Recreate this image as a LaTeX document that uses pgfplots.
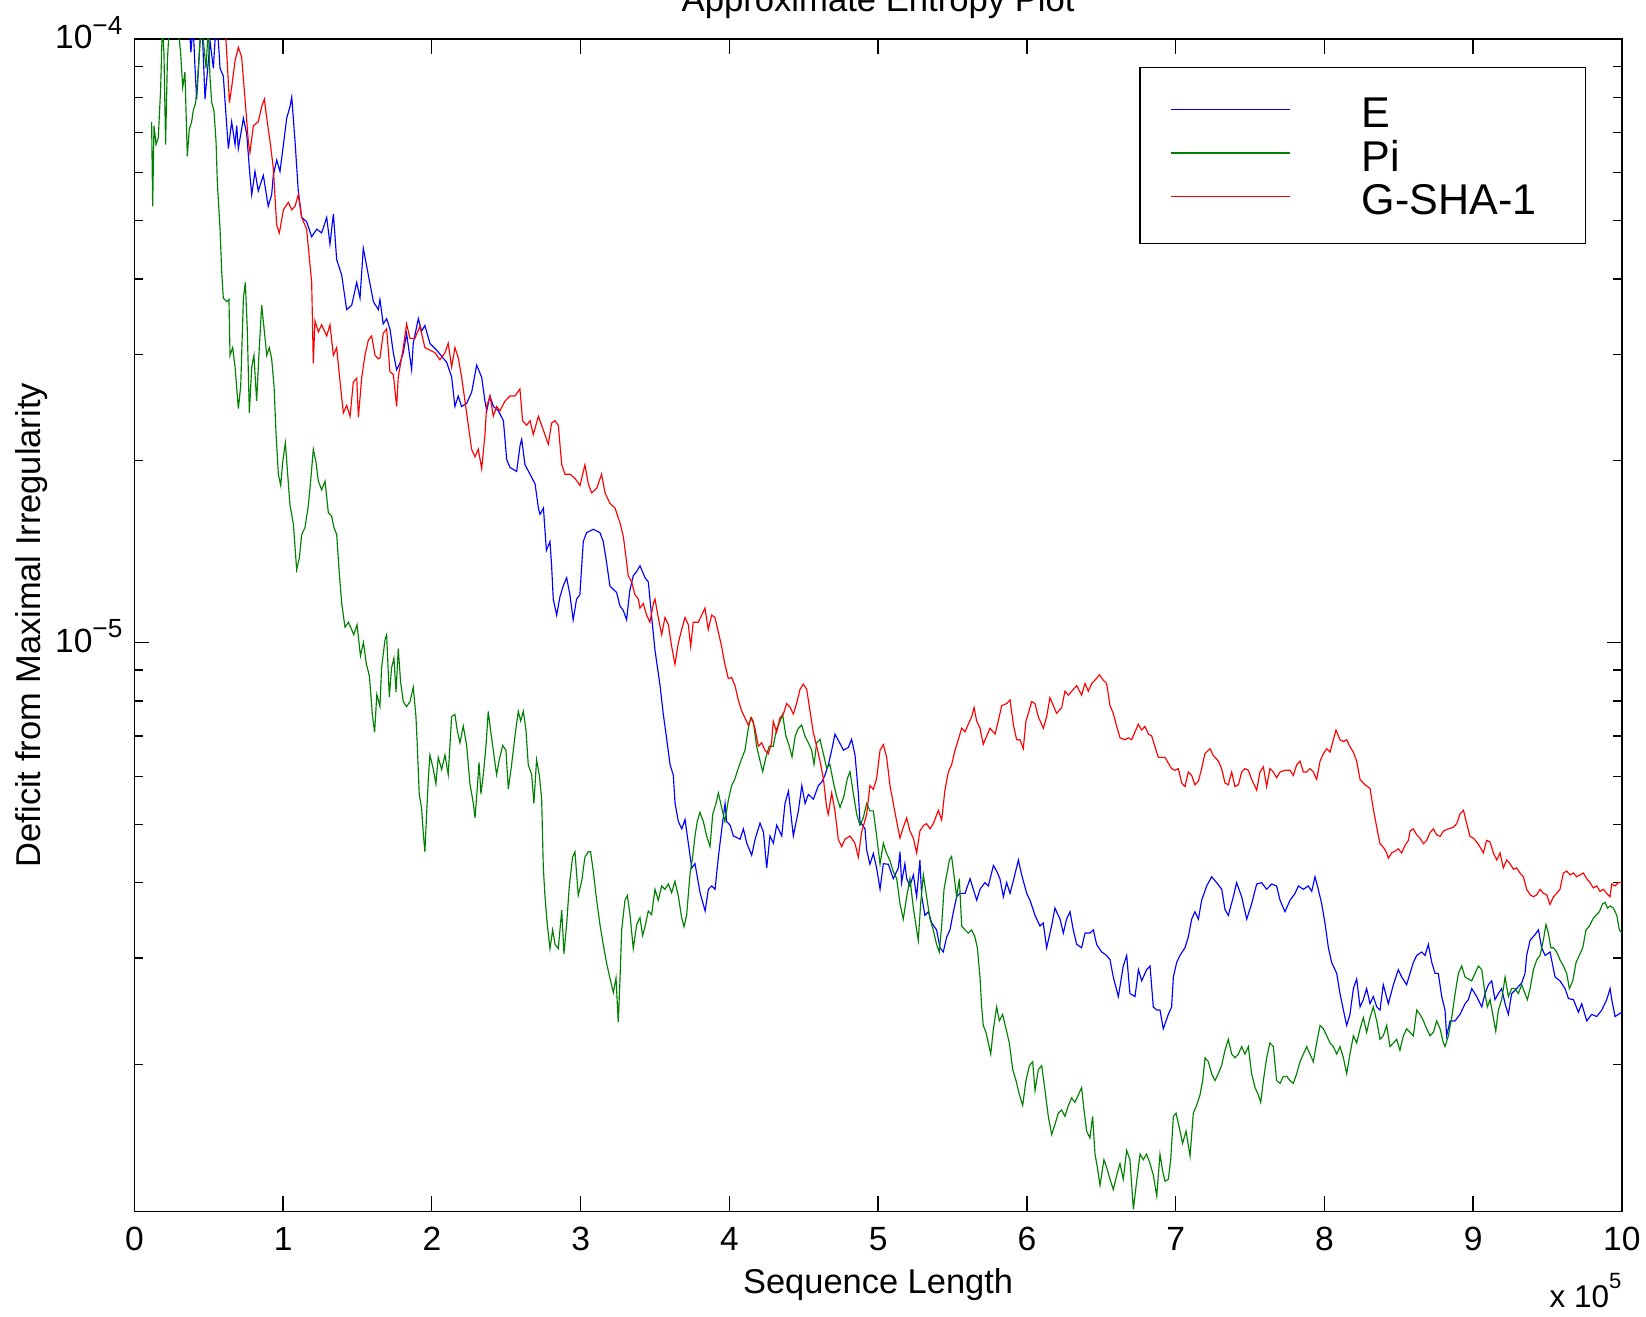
\documentclass[border=0pt]{standalone}
\usepackage{fontspec}
\setmainfont{Liberation Sans}
\usepackage{pgfplots}
\pgfplotsset{compat=1.18}
\definecolor{mblue}{rgb}{0,0,1}
\definecolor{mgreen}{rgb}{0,0.5,0}
\definecolor{mred}{rgb}{1,0,0}
\newcommand{\ylab}[1]{10\raisebox{7pt}{\fontsize{12.5}{12.5}\selectfont −#1}}
\begin{document}
\begin{tikzpicture}
\begin{axis}[
  scale only axis, width=708.5pt, height=558.5pt,
  xmin=0, xmax=10, ymode=log, ymin=1.141e-6, ymax=1e-4,
  xtick={0,1,2,3,4,5,6,7,8,9,10}, xticklabels={0,1,2,3,4,5,6,7,8,9,10},
  ytick={1e-5,1e-4}, yticklabels={\ylab{5},\ylab{4}},
  minor ytick={2e-6,3e-6,4e-6,5e-6,6e-6,7e-6,8e-6,9e-6,2e-5,3e-5,4e-5,5e-5,6e-5,7e-5,8e-5,9e-5},
  tick align=inside, major tick length=7.2pt, minor tick length=4.3pt,
  every tick/.style={black, line width=0.6pt},
  axis line style={black, line width=0.8pt},
  tick label style={font=\fontsize{16}{16}\selectfont},
  xticklabel style={anchor=north, inner sep=0pt, yshift=-7.3pt},
  yticklabel style={anchor=base east, inner sep=0pt, xshift=-5.5pt, yshift=-4.8pt},
  xlabel={Sequence Length}, ylabel={Deficit from Maximal Irregularity},
  label style={font=\fontsize{16.4}{16.4}\selectfont},
  xlabel style={at={(axis description cs:0.5,-0.0698)}, anchor=base, inner sep=0pt},
  ylabel style={at={(axis description cs:-0.0692,0.5)}, anchor=center, inner sep=0pt},
  legend style={at={(0.6757,0.9763)}, anchor=north west, draw=black, line width=0.6pt, fill=white,
    inner xsep=14.3pt, inner ysep=14pt, row sep=5.85pt,
    font=\fontsize{20.5}{20.5}\selectfont,
    nodes={inner sep=0pt, text height=14.8pt, text depth=0pt},
    /tikz/every odd column/.append style={column sep=33.8pt}},
  legend cell align=left,
  legend image code/.code={\draw[#1, line width=0.55pt] (0pt,1.2pt) -- (57pt,1.2pt);},
]
\coordinate (sw) at (rel axis cs:0,0);
\coordinate (se) at (rel axis cs:1,0);
\coordinate (ne) at (rel axis cs:1,1);
\coordinate (nmid) at (rel axis cs:0.5,1);

% E
\addplot[mblue, line width=0.55pt] coordinates {
(0.36,1.15e-4) (0.38,9.5e-5) (0.395,1.05e-4) (0.408,8.94e-5) (0.419,7.95e-5) (0.452,1.1e-4) (0.475,7.95e-5) (0.509,9.9e-5) (0.531,8.94e-5) (0.553,1.1e-4) (0.576,8.94e-5) (0.598,8.68e-5) (0.621,7.18e-5) (0.632,6.58e-5) (0.654,7.29e-5) (0.677,6.68e-5) (0.688,7.18e-5) (0.699,6.58e-5) (0.733,7.39e-5) (0.755,6.97e-5) (0.777,5.94e-5) (0.789,5.52e-5) (0.811,6.03e-5) (0.833,5.60e-5) (0.867,5.94e-5) (0.9,5.28e-5) (0.923,5.52e-5) (0.934,5.94e-5) (0.957,6.30e-5) (0.979,6.03e-5) (1.002,6.68e-5) (1.024,7.39e-5) (1.046,7.72e-5) (1.058,8.01e-5) (1.08,6.77e-5) (1.102,5.60e-5) (1.125,5.06e-5) (1.158,4.98e-5) (1.192,4.70e-5) (1.226,4.84e-5) (1.259,4.77e-5) (1.293,5.06e-5) (1.315,4.57e-5) (1.338,5.13e-5) (1.36,4.31e-5) (1.394,4.06e-5) (1.427,3.56e-5) (1.461,3.62e-5) (1.495,3.95e-5) (1.517,3.72e-5) (1.539,4.50e-5) (1.573,4.06e-5) (1.607,3.67e-5) (1.64,3.56e-5)
(1.651,3.70e-5) (1.673,3.37e-5) (1.696,3.44e-5) (1.718,3.31e-5) (1.741,3.02e-5) (1.763,2.83e-5) (1.785,2.90e-5) (1.808,3.02e-5) (1.83,3.25e-5) (1.864,2.83e-5) (1.875,3.13e-5) (1.909,3.44e-5) (1.931,3.28e-5) (1.953,3.35e-5) (1.987,3.13e-5) (2.032,3.05e-5) (2.1,2.91e-5) (2.133,2.75e-5) (2.155,2.46e-5) (2.177,2.56e-5) (2.2,2.46e-5) (2.234,2.49e-5) (2.268,2.60e-5) (2.301,2.88e-5) (2.335,2.75e-5) (2.357,2.51e-5) (2.369,2.42e-5) (2.39,2.56e-5) (2.414,2.46e-5) (2.447,2.42e-5) (2.481,2.33e-5) (2.503,2.01e-5) (2.525,1.95e-5) (2.57,1.92e-5) (2.593,2.12e-5) (2.604,2.17e-5) (2.626,1.97e-5) (2.66,1.90e-5) (2.694,1.83e-5) (2.716,1.67e-5) (2.727,1.63e-5) (2.75,1.67e-5) (2.77,1.42e-5) (2.794,1.47e-5) (2.805,1.34e-5) (2.816,1.18e-5) (2.839,1.11e-5) (2.861,1.19e-5) (2.883,1.24e-5) (2.906,1.28e-5) (2.928,1.20e-5) (2.95,1.09e-5) (2.973,1.18e-5) (2.995,1.20e-5) (3.018,1.47e-5) (3.04,1.52e-5) (3.085,1.54e-5) (3.13,1.52e-5) (3.152,1.47e-5) (3.174,1.36e-5) (3.197,1.24e-5) (3.242,1.21e-5) (3.264,1.15e-5) (3.287,1.13e-5) (3.309,1.09e-5) (3.331,1.22e-5) (3.354,1.29e-5) (3.376,1.31e-5)
(3.399,1.34e-5) (3.433,1.28e-5) (3.455,1.26e-5) (3.478,1.10e-5) (3.5,9.71e-6) (3.534,8.48e-6) (3.556,7.60e-6) (3.579,6.91e-6) (3.601,6.28e-6) (3.623,6.03e-6) (3.635,5.41e-6) (3.657,5.05e-6) (3.68,4.91e-6) (3.702,5.09e-6) (3.724,4.65e-6) (3.747,4.23e-6) (3.769,4.30e-6) (3.803,3.85e-6) (3.837,3.59e-6) (3.859,3.90e-6) (3.881,3.95e-6) (3.904,3.90e-6) (3.926,4.41e-6) (3.949,4.91e-6) (3.971,5.41e-6) (3.982,5.05e-6) (4.005,4.98e-6) (4.027,4.78e-6) (4.05,4.75e-6) (4.072,4.72e-6) (4.094,4.91e-6) (4.117,4.65e-6) (4.15,4.44e-6) (4.173,4.72e-6) (4.206,5.02e-6) (4.229,4.85e-6) (4.251,4.23e-6) (4.273,4.78e-6) (4.296,4.65e-6) (4.318,4.98e-6) (4.352,4.78e-6) (4.374,5.41e-6) (4.397,5.67e-6) (4.43,4.78e-6) (4.464,5.26e-6) (4.487,5.79e-6) (4.509,5.41e-6) (4.531,5.60e-6) (4.565,5.50e-6) (4.598,5.79e-6) (4.621,5.87e-6) (4.643,6.03e-6) (4.666,6.28e-6) (4.688,6.63e-6) (4.71,7.05e-6) (4.744,6.80e-6) (4.767,6.63e-6) (4.8,6.70e-6) (4.822,6.91e-6) (4.845,6.50e-6) (4.867,5.63e-6) (4.878,5.05e-6) (4.912,4.91e-6) (4.923,4.53e-6) (4.945,4.29e-6) (4.968,4.47e-6) (4.99,4.23e-6) (5.013,3.90e-6) (5.035,4.30e-6) (5.069,4.29e-6) (5.102,4.06e-6) (5.136,4.23e-6)
(5.147,4.5e-6) (5.158,4.0e-6) (5.18,4.3e-6) (5.192,4.06e-6) (5.214,3.95e-6) (5.237,4.12e-6) (5.259,3.79e-6) (5.281,4.36e-6) (5.293,3.79e-6) (5.315,3.53e-6) (5.338,3.58e-6) (5.36,3.43e-6) (5.393,3.34e-6) (5.416,3.12e-6) (5.438,3.07e-6) (5.461,3.25e-6) (5.483,3.34e-6) (5.506,3.58e-6) (5.528,3.79e-6) (5.55,3.84e-6) (5.584,3.84e-6) (5.618,4.06e-6) (5.64,3.90e-6) (5.663,3.74e-6) (5.685,3.90e-6) (5.718,4.00e-6) (5.741,3.95e-6) (5.775,4.27e-6) (5.797,4.18e-6) (5.819,4.06e-6) (5.842,3.79e-6) (5.864,4.00e-6) (5.887,3.84e-6) (5.909,4.03e-6) (5.943,4.36e-6) (5.965,4.12e-6) (5.999,3.84e-6) (6.021,3.74e-6) (6.055,3.53e-6) (6.088,3.39e-6) (6.11,3.43e-6) (6.133,3.12e-6) (6.166,3.39e-6) (6.189,3.63e-6) (6.223,3.48e-6) (6.245,3.30e-6) (6.267,3.48e-6) (6.29,3.58e-6) (6.312,3.34e-6) (6.335,3.16e-6) (6.368,3.12e-6) (6.391,3.30e-6) (6.424,3.30e-6) (6.447,3.34e-6) (6.469,3.16e-6) (6.503,3.07e-6) (6.536,3.03e-6) (6.559,2.98e-6) (6.581,2.79e-6) (6.615,2.59e-6) (6.648,2.91e-6) (6.671,3.03e-6) (6.693,2.62e-6) (6.727,2.59e-6) (6.75,2.87e-6) (6.772,2.75e-6) (6.805,2.87e-6) (6.828,2.91e-6) (6.85,2.49e-6) (6.873,2.46e-6)
(6.895,2.46e-6) (6.917,2.29e-6) (6.951,2.42e-6) (6.973,2.49e-6) (6.985,2.79e-6) (7.007,2.95e-6) (7.029,3.03e-6) (7.063,3.12e-6) (7.085,3.25e-6) (7.108,3.48e-6) (7.13,3.58e-6) (7.153,3.48e-6) (7.175,3.74e-6) (7.209,3.95e-6) (7.242,4.09e-6) (7.276,4.00e-6) (7.31,3.90e-6) (7.332,3.61e-6) (7.354,3.53e-6) (7.388,3.79e-6) (7.41,4.00e-6) (7.444,3.79e-6) (7.478,3.48e-6) (7.511,3.69e-6) (7.545,3.98e-6) (7.578,4.00e-6) (7.612,3.90e-6) (7.646,3.98e-6) (7.679,3.95e-6) (7.702,3.74e-6) (7.735,3.58e-6) (7.769,3.74e-6) (7.803,3.84e-6) (7.825,3.95e-6) (7.859,3.90e-6) (7.892,3.95e-6) (7.915,3.87e-6) (7.937,4.09e-6) (7.959,3.90e-6) (7.982,3.69e-6) (8.004,3.43e-6) (8.027,3.12e-6) (8.049,2.95e-6) (8.083,2.83e-6) (8.105,2.62e-6) (8.128,2.46e-6) (8.15,2.32e-6) (8.172,2.42e-6) (8.195,2.67e-6) (8.217,2.77e-6) (8.24,2.49e-6) (8.262,2.56e-6) (8.284,2.67e-6) (8.307,2.52e-6) (8.329,2.59e-6) (8.352,2.49e-6) (8.374,2.46e-6) (8.396,2.71e-6) (8.43,2.52e-6) (8.464,2.71e-6) (8.497,2.87e-6) (8.52,2.79e-6) (8.553,2.71e-6)
(8.576,2.83e-6) (8.598,2.95e-6) (8.621,3.03e-6) (8.654,3.07e-6) (8.677,3.03e-6) (8.699,3.16e-6) (8.722,2.95e-6) (8.744,2.83e-6) (8.766,2.83e-6) (8.789,2.59e-6) (8.811,2.46e-6) (8.822,2.23e-6) (8.845,2.36e-6) (8.878,2.36e-6) (8.912,2.42e-6) (8.946,2.52e-6) (8.968,2.56e-6) (8.991,2.67e-6) (9.024,2.59e-6) (9.058,2.49e-6) (9.08,2.62e-6) (9.103,2.71e-6) (9.125,2.75e-6) (9.147,2.56e-6) (9.17,2.62e-6) (9.192,2.67e-6) (9.215,2.52e-6) (9.237,2.42e-6) (9.259,2.62e-6) (9.293,2.67e-6) (9.327,2.73e-6) (9.349,2.83e-6) (9.36,3.03e-6) (9.383,3.21e-6) (9.416,3.28e-6) (9.439,3.34e-6) (9.461,3.12e-6) (9.484,3.03e-6) (9.517,3.07e-6) (9.551,2.79e-6) (9.584,2.75e-6) (9.618,2.67e-6) (9.641,2.57e-6) (9.674,2.56e-6) (9.708,2.44e-6) (9.73,2.52e-6) (9.764,2.36e-6) (9.797,2.42e-6) (9.831,2.40e-6) (9.865,2.46e-6) (9.898,2.56e-6) (9.921,2.67e-6) (9.932,2.56e-6) (9.954,2.40e-6) (9.977,2.42e-6) (10,2.44e-6)
};
\addlegendentry{E}

% Pi
\addplot[mgreen, line width=0.55pt] coordinates {
(0.116,7.29e-5) (0.123,5.28e-5) (0.132,7.18e-5) (0.146,6.68e-5) (0.161,6.87e-5) (0.177,8.31e-5) (0.188,1.05e-4) (0.199,9.48e-5) (0.21,6.68e-5) (0.222,9.20e-5) (0.235,1.05e-4) (0.251,1.1e-4) (0.285,1.1e-4) (0.311,9.48e-5) (0.325,8.31e-5) (0.34,8.81e-5) (0.356,6.39e-5) (0.369,7.08e-5) (0.385,7.29e-5) (0.396,7.61e-5) (0.412,7.84e-5) (0.425,8.55e-5) (0.437,9.48e-5) (0.448,1.05e-4) (0.464,9.9e-5) (0.482,8.94e-5) (0.497,1.05e-4) (0.508,8.68e-5) (0.52,7.84e-5) (0.535,7.61e-5) (0.549,6.77e-5) (0.558,5.77e-5) (0.567,5.28e-5) (0.576,4.84e-5) (0.587,4.12e-5) (0.598,3.72e-5) (0.621,3.67e-5) (0.636,3.70e-5) (0.643,2.99e-5) (0.661,3.08e-5) (0.677,2.86e-5) (0.699,2.44e-5) (0.715,2.66e-5) (0.733,3.72e-5) (0.746,3.95e-5) (0.759,3.31e-5) (0.773,2.40e-5) (0.789,2.86e-5) (0.804,2.99e-5) (0.822,2.51e-5) (0.84,3.08e-5) (0.856,3.62e-5) (0.872,3.31e-5) (0.89,2.99e-5) (0.907,3.08e-5) (0.923,2.95e-5) (0.939,2.66e-5) (0.952,2.23e-5) (0.968,1.90e-5) (0.984,1.82e-5) (0.997,1.99e-5) (1.015,2.14e-5) (1.028,1.94e-5) (1.046,1.69e-5) (1.069,1.57e-5) (1.091,1.32e-5) (1.109,1.38e-5) (1.125,1.51e-5) (1.147,1.55e-5) (1.17,1.69e-5) (1.185,1.85e-5) (1.203,2.09e-5) (1.221,1.99e-5) (1.237,1.85e-5) (1.259,1.79e-5) (1.282,1.85e-5) (1.304,1.64e-5) (1.326,1.62e-5) (1.342,1.55e-5) (1.36,1.51e-5) (1.378,1.30e-5) (1.394,1.16e-5) (1.416,1.06e-5) (1.439,1.08e-5) (1.454,1.06e-5)
(1.475,1.03e-5) (1.497,1.07e-5) (1.52,9.5e-6) (1.54,1.0e-5) (1.56,9.2e-6) (1.58,8.8e-6) (1.6,7.6e-6) (1.615,7.1e-6) (1.63,8.2e-6)
(1.651,7.83e-6) (1.662,9.08e-6) (1.685,1.01e-5) (1.696,1.03e-5) (1.714,8.12e-6) (1.729,9.08e-6) (1.745,9.42e-6) (1.759,8.28e-6) (1.774,9.77e-6) (1.79,8.59e-6) (1.808,7.98e-6) (1.83,7.83e-6) (1.853,7.98e-6) (1.875,8.43e-6) (1.893,7.54e-6) (1.902,6.75e-6) (1.915,5.61e-6) (1.931,5.31e-6) (1.942,4.84e-6) (1.953,4.50e-6) (1.965,5.21e-6) (1.976,5.93e-6) (1.987,6.51e-6) (2.01,6.16e-6) (2.027,5.83e-6) (2.043,6.45e-6) (2.066,6.16e-6) (2.088,6.51e-6) (2.11,6.04e-6) (2.133,7.54e-6) (2.155,7.60e-6) (2.171,7.14e-6) (2.189,6.82e-6) (2.211,7.27e-6) (2.234,6.75e-6) (2.256,5.83e-6) (2.279,5.41e-6) (2.29,5.12e-6) (2.305,5.72e-6) (2.317,6.33e-6) (2.33,5.61e-6) (2.346,6.04e-6) (2.364,6.75e-6) (2.379,7.69e-6) (2.395,7.14e-6) (2.413,6.63e-6) (2.435,6.04e-6) (2.453,6.39e-6) (2.476,6.75e-6) (2.498,6.63e-6) (2.514,5.72e-6) (2.536,6.27e-6) (2.559,7.01e-6) (2.581,7.69e-6) (2.597,7.41e-6) (2.615,7.69e-6) (2.633,7.14e-6) (2.648,6.27e-6) (2.671,6.04e-6) (2.686,5.41e-6) (2.704,6.39e-6) (2.722,6.04e-6) (2.738,5.51e-6) (2.749,4.25e-6) (2.76,3.81e-6) (2.776,3.41e-6) (2.794,3.11e-6) (2.812,3.34e-6) (2.828,3.16e-6) (2.85,3.11e-6) (2.873,3.60e-6) (2.888,3.05e-6) (2.906,3.41e-6) (2.924,3.95e-6) (2.946,4.41e-6) (2.962,4.50e-6) (2.984,3.81e-6) (3.007,4.02e-6) (3.029,4.41e-6) (3.052,4.50e-6) (3.067,4.50e-6) (3.085,4.18e-6) (3.108,3.74e-6) (3.13,3.41e-6) (3.152,3.16e-6) (3.175,2.94e-6) (3.197,2.78e-6) (3.22,2.63e-6) (3.238,2.78e-6) (3.253,2.35e-6) (3.264,2.73e-6) (3.276,3.34e-6) (3.298,3.74e-6) (3.314,3.81e-6) (3.332,3.54e-6) (3.354,3.11e-6) (3.377,3.41e-6)
(3.399,3.50e-6) (3.417,3.27e-6) (3.433,3.38e-6) (3.455,3.59e-6) (3.477,3.54e-6) (3.5,3.90e-6) (3.522,3.74e-6) (3.545,3.95e-6) (3.567,3.90e-6) (3.59,3.98e-6) (3.612,3.85e-6) (3.634,4.02e-6) (3.657,3.80e-6) (3.679,3.50e-6) (3.695,3.38e-6) (3.713,3.54e-6) (3.735,4.12e-6) (3.753,4.41e-6) (3.769,4.78e-6) (3.784,5.05e-6) (3.802,5.23e-6) (3.825,5.05e-6) (3.847,4.78e-6) (3.87,4.59e-6) (3.888,5.19e-6) (3.91,5.41e-6) (3.926,5.63e-6) (3.948,5.33e-6) (3.97,5.05e-6) (3.993,5.48e-6) (4.015,5.79e-6) (4.038,5.95e-6) (4.06,6.19e-6) (4.082,6.41e-6) (4.105,6.63e-6) (4.127,7.20e-6) (4.143,7.50e-6) (4.161,7.40e-6) (4.183,6.73e-6) (4.206,6.37e-6) (4.224,6.11e-6) (4.246,6.46e-6) (4.268,6.73e-6) (4.295,6.73e-6) (4.318,7.20e-6) (4.34,7.40e-6) (4.358,7.60e-6) (4.38,7.00e-6) (4.403,6.73e-6) (4.421,6.46e-6) (4.443,7.00e-6) (4.463,7.20e-6) (4.486,7.30e-6) (4.508,7.00e-6) (4.531,6.82e-6) (4.553,6.63e-6) (4.569,6.28e-6) (4.587,6.82e-6) (4.609,6.91e-6) (4.632,6.54e-6) (4.654,6.19e-6) (4.676,6.28e-6) (4.699,5.87e-6) (4.721,5.56e-6) (4.744,5.33e-6) (4.77,5.56e-6) (4.793,5.95e-6) (4.811,6.11e-6) (4.833,5.63e-6) (4.856,5.19e-6) (4.878,4.98e-6) (4.9,5.12e-6) (4.923,5.41e-6) (4.945,5.26e-6) (4.968,5.26e-6) (4.99,4.78e-6) (5.013,4.29e-6) (5.035,4.65e-6) (5.057,4.47e-6) (5.08,4.35e-6) (5.102,4.17e-6) (5.125,4.06e-6)
(5.147,3.69e-6) (5.169,3.48e-6) (5.192,3.79e-6) (5.214,4.06e-6) (5.237,3.63e-6) (5.259,3.34e-6) (5.27,3.21e-6) (5.286,3.69e-6) (5.304,4.12e-6) (5.326,3.79e-6) (5.349,3.48e-6) (5.371,3.34e-6) (5.393,3.16e-6) (5.411,3.07e-6) (5.427,3.39e-6) (5.443,3.90e-6) (5.461,4.12e-6) (5.479,4.36e-6) (5.494,4.42e-6) (5.51,4.12e-6) (5.528,3.79e-6) (5.546,4.06e-6) (5.562,3.39e-6) (5.584,3.34e-6) (5.606,3.30e-6) (5.629,3.34e-6) (5.651,3.25e-6) (5.667,3.12e-6) (5.685,2.79e-6) (5.696,2.49e-6) (5.707,2.32e-6) (5.725,2.26e-6) (5.741,2.17e-6) (5.757,2.08e-6) (5.775,2.29e-6) (5.797,2.49e-6) (5.815,2.36e-6) (5.837,2.42e-6) (5.86,2.29e-6) (5.882,2.17e-6) (5.905,1.96e-6) (5.927,1.88e-6) (5.95,1.78e-6) (5.972,1.71e-6) (5.994,1.88e-6) (6.017,1.99e-6) (6.039,2.02e-6) (6.055,1.81e-6) (6.077,1.96e-6) (6.1,1.99e-6) (6.122,1.81e-6) (6.144,1.64e-6) (6.167,1.53e-6) (6.189,1.59e-6) (6.211,1.66e-6) (6.234,1.68e-6) (6.256,1.64e-6) (6.279,1.71e-6) (6.301,1.76e-6) (6.323,1.73e-6) (6.346,1.78e-6) (6.368,1.83e-6) (6.384,1.68e-6) (6.402,1.55e-6) (6.424,1.51e-6) (6.442,1.64e-6) (6.458,1.42e-6) (6.474,1.35e-6) (6.492,1.26e-6) (6.518,1.39e-6) (6.536,1.35e-6) (6.559,1.29e-6) (6.581,1.24e-6) (6.604,1.31e-6) (6.626,1.37e-6) (6.648,1.29e-6) (6.671,1.44e-6) (6.693,1.39e-6) (6.716,1.15e-6) (6.738,1.28e-6) (6.761,1.42e-6) (6.783,1.39e-6) (6.805,1.42e-6) (6.828,1.37e-6) (6.85,1.31e-6) (6.873,1.21e-6)
(6.895,1.42e-6) (6.913,1.33e-6) (6.929,1.28e-6) (6.951,1.29e-6) (6.967,1.39e-6) (6.985,1.64e-6) (7.003,1.66e-6) (7.025,1.57e-6) (7.047,1.48e-6) (7.07,1.55e-6) (7.097,1.41e-6) (7.119,1.66e-6) (7.141,1.71e-6) (7.164,1.78e-6) (7.182,1.88e-6) (7.198,2.05e-6) (7.22,2.02e-6) (7.242,1.93e-6) (7.265,1.88e-6) (7.287,1.93e-6) (7.309,1.99e-6) (7.332,2.11e-6) (7.354,2.20e-6) (7.377,2.08e-6) (7.399,2.05e-6) (7.422,2.08e-6) (7.444,2.14e-6) (7.466,2.08e-6) (7.489,2.14e-6) (7.511,1.93e-6) (7.534,1.83e-6) (7.556,1.78e-6) (7.572,1.73e-6) (7.59,1.88e-6) (7.612,2.05e-6) (7.634,2.17e-6) (7.657,2.14e-6) (7.679,1.88e-6) (7.702,1.86e-6) (7.724,1.91e-6) (7.747,1.91e-6) (7.769,1.88e-6) (7.791,1.86e-6) (7.814,1.93e-6) (7.836,2.02e-6) (7.859,2.08e-6) (7.881,2.14e-6) (7.903,2.08e-6) (7.926,2.02e-6) (7.948,2.17e-6) (7.971,2.32e-6) (7.993,2.29e-6) (8.016,2.23e-6) (8.038,2.17e-6) (8.06,2.14e-6) (8.083,2.08e-6) (8.105,2.14e-6) (8.128,2.05e-6) (8.15,1.93e-6) (8.172,2.08e-6) (8.195,2.23e-6) (8.217,2.17e-6) (8.24,2.29e-6) (8.262,2.39e-6) (8.284,2.26e-6) (8.307,2.39e-6) (8.329,2.49e-6) (8.352,2.36e-6) (8.374,2.20e-6) (8.396,2.23e-6) (8.419,2.32e-6) (8.441,2.14e-6) (8.464,2.17e-6) (8.486,2.20e-6) (8.508,2.11e-6) (8.531,2.23e-6) (8.553,2.29e-6)
(8.576,2.26e-6) (8.598,2.23e-6) (8.621,2.46e-6) (8.643,2.42e-6) (8.666,2.36e-6) (8.688,2.29e-6) (8.71,2.23e-6) (8.733,2.26e-6) (8.755,2.36e-6) (8.778,2.29e-6) (8.8,2.17e-6) (8.811,2.14e-6) (8.834,2.23e-6) (8.856,2.39e-6) (8.879,2.62e-6) (8.901,2.83e-6) (8.923,2.91e-6) (8.946,2.79e-6) (8.968,2.77e-6) (8.99,2.75e-6) (9.013,2.83e-6) (9.035,2.91e-6) (9.058,2.87e-6) (9.08,2.62e-6) (9.096,2.49e-6) (9.114,2.56e-6) (9.136,2.39e-6) (9.152,2.27e-6) (9.17,2.46e-6) (9.192,2.56e-6) (9.215,2.79e-6) (9.237,2.59e-6) (9.259,2.67e-6) (9.282,2.67e-6) (9.304,2.62e-6) (9.327,2.71e-6) (9.349,2.62e-6) (9.365,2.56e-6) (9.383,2.67e-6) (9.405,2.87e-6) (9.428,2.98e-6) (9.45,3.03e-6) (9.472,3.21e-6) (9.49,3.41e-6) (9.506,3.30e-6) (9.522,3.12e-6) (9.54,3.12e-6) (9.562,3.07e-6) (9.584,2.98e-6) (9.607,2.91e-6) (9.629,2.83e-6) (9.647,2.67e-6) (9.67,2.75e-6) (9.692,2.95e-6) (9.714,3.03e-6) (9.737,3.12e-6) (9.759,3.34e-6) (9.782,3.39e-6) (9.804,3.48e-6) (9.826,3.53e-6) (9.849,3.58e-6) (9.871,3.69e-6) (9.887,3.71e-6) (9.903,3.63e-6) (9.921,3.66e-6) (9.943,3.63e-6) (9.966,3.53e-6) (9.983,3.34e-6) (10,3.30e-6)
};
\addlegendentry{Pi}

% G-SHA-1
\addplot[mred, line width=0.55pt] coordinates {
(0.6,1.15e-4) (0.621,9.48e-5) (0.639,7.84e-5) (0.654,8.31e-5) (0.677,9.20e-5) (0.699,9.68e-5) (0.721,9.34e-5) (0.744,7.95e-5) (0.766,6.77e-5) (0.777,6.48e-5) (0.8,7.18e-5) (0.833,7.29e-5) (0.856,7.72e-5) (0.874,7.95e-5) (0.89,7.39e-5) (0.912,6.77e-5) (0.934,6.11e-5) (0.957,4.91e-5) (0.975,4.77e-5) (1.002,5.21e-5) (1.035,5.36e-5) (1.058,5.21e-5) (1.08,5.28e-5) (1.102,5.52e-5) (1.125,5.06e-5) (1.158,4.84e-5) (1.192,3.95e-5) (1.203,2.90e-5) (1.214,3.41e-5) (1.237,3.27e-5) (1.259,3.36e-5) (1.293,3.22e-5) (1.315,3.36e-5) (1.338,2.99e-5) (1.36,3.08e-5) (1.383,2.70e-5) (1.405,2.40e-5) (1.427,2.47e-5) (1.45,2.37e-5) (1.472,2.70e-5) (1.495,2.74e-5) (1.506,2.36e-5) (1.528,2.74e-5) (1.55,2.99e-5) (1.573,3.17e-5) (1.595,3.22e-5) (1.618,2.99e-5) (1.64,2.95e-5)
(1.651,2.96e-5) (1.673,3.25e-5) (1.696,3.31e-5) (1.718,2.81e-5) (1.741,2.78e-5) (1.763,2.46e-5) (1.774,2.75e-5) (1.808,3.08e-5) (1.83,3.37e-5) (1.853,3.19e-5) (1.886,3.19e-5) (1.92,3.34e-5) (1.953,3.08e-5) (1.987,3.05e-5) (2.021,3.02e-5) (2.054,2.94e-5) (2.088,3.02e-5) (2.11,3.13e-5) (2.133,2.86e-5) (2.155,3.08e-5) (2.178,2.96e-5) (2.2,2.75e-5) (2.223,2.51e-5) (2.245,2.29e-5) (2.267,2.09e-5) (2.29,2.03e-5) (2.312,2.09e-5) (2.335,1.94e-5) (2.357,2.21e-5) (2.368,2.46e-5) (2.391,2.56e-5) (2.413,2.37e-5) (2.435,2.46e-5) (2.458,2.42e-5) (2.491,2.51e-5) (2.525,2.56e-5) (2.559,2.56e-5) (2.592,2.63e-5) (2.61,2.33e-5) (2.637,2.29e-5) (2.66,2.33e-5) (2.682,2.21e-5) (2.716,2.37e-5) (2.738,2.29e-5) (2.76,2.21e-5) (2.783,2.13e-5) (2.805,2.31e-5) (2.828,2.33e-5) (2.85,2.29e-5) (2.873,1.97e-5) (2.895,1.90e-5) (2.928,1.90e-5) (2.962,1.87e-5) (2.996,1.82e-5) (3.029,1.97e-5) (3.052,1.83e-5) (3.074,1.77e-5) (3.108,1.80e-5) (3.141,1.90e-5) (3.164,1.77e-5) (3.197,1.70e-5) (3.231,1.67e-5) (3.264,1.58e-5) (3.287,1.50e-5) (3.309,1.36e-5) (3.32,1.29e-5) (3.343,1.26e-5) (3.365,1.20e-5) (3.388,1.18e-5)
(3.399,1.14e-5) (3.421,1.16e-5) (3.444,1.11e-5) (3.466,1.08e-5) (3.489,1.16e-5) (3.5,1.18e-5) (3.522,1.10e-5) (3.545,1.03e-5) (3.567,1.10e-5) (3.59,1.07e-5) (3.612,9.85e-6) (3.634,9.20e-6) (3.657,9.98e-6) (3.679,1.05e-5) (3.702,1.10e-5) (3.724,1.07e-5) (3.74,9.85e-6) (3.757,1.08e-5) (3.791,1.08e-5) (3.814,1.11e-5) (3.836,1.14e-5) (3.858,1.05e-5) (3.881,1.11e-5) (3.903,1.10e-5) (3.926,1.04e-5) (3.948,9.85e-6) (3.97,9.20e-6) (3.993,8.71e-6) (4.015,8.75e-6) (4.038,8.48e-6) (4.06,8.03e-6) (4.082,7.71e-6) (4.105,7.50e-6) (4.127,7.30e-6) (4.15,7.50e-6) (4.172,7.20e-6) (4.195,6.73e-6) (4.217,6.82e-6) (4.239,6.63e-6) (4.262,6.54e-6) (4.284,6.82e-6) (4.295,7.40e-6) (4.318,7.10e-6) (4.34,7.50e-6) (4.363,7.61e-6) (4.385,7.92e-6) (4.407,7.82e-6) (4.43,7.61e-6) (4.452,7.92e-6) (4.475,8.36e-6) (4.497,8.53e-6) (4.52,8.36e-6) (4.542,7.71e-6) (4.564,7.10e-6) (4.587,6.73e-6) (4.609,6.37e-6) (4.632,5.95e-6) (4.654,5.33e-6) (4.665,5.19e-6) (4.688,5.63e-6) (4.71,5.26e-6) (4.732,4.72e-6) (4.755,4.59e-6) (4.777,4.72e-6) (4.811,4.78e-6) (4.844,4.65e-6) (4.867,4.41e-6) (4.889,4.85e-6) (4.923,5.19e-6) (4.945,5.79e-6) (4.968,5.71e-6) (4.99,5.95e-6) (5.013,6.63e-6) (5.035,6.77e-6) (5.057,6.46e-6) (5.08,5.79e-6) (5.102,5.41e-6) (5.125,5.05e-6)
(5.147,4.74e-6) (5.169,4.94e-6) (5.192,5.12e-6) (5.214,4.87e-6) (5.237,4.74e-6) (5.259,4.48e-6) (5.281,4.87e-6) (5.304,4.97e-6) (5.326,5.01e-6) (5.349,4.91e-6) (5.371,5.01e-6) (5.405,5.27e-6) (5.427,5.08e-6) (5.449,5.69e-6) (5.472,6.10e-6) (5.494,6.27e-6) (5.517,6.63e-6) (5.539,6.90e-6) (5.562,7.21e-6) (5.584,7.11e-6) (5.606,7.32e-6) (5.629,7.53e-6) (5.645,7.80e-6) (5.662,7.42e-6) (5.685,7.21e-6) (5.707,6.78e-6) (5.73,7.00e-6) (5.752,7.21e-6) (5.786,7.05e-6) (5.808,7.42e-6) (5.831,7.86e-6) (5.864,7.92e-6) (5.887,8.03e-6) (5.909,7.32e-6) (5.931,6.90e-6) (5.954,6.90e-6) (5.976,6.67e-6) (5.994,7.42e-6) (6.01,7.63e-6) (6.032,7.98e-6) (6.055,7.92e-6) (6.077,7.53e-6) (6.111,7.21e-6) (6.133,7.53e-6) (6.155,8.10e-6) (6.178,7.86e-6) (6.2,7.63e-6) (6.234,7.80e-6) (6.256,8.30e-6) (6.279,8.18e-6) (6.301,8.30e-6) (6.335,8.48e-6) (6.368,8.18e-6) (6.391,8.55e-6) (6.413,8.30e-6) (6.436,8.55e-6) (6.469,8.72e-6) (6.487,8.84e-6) (6.514,8.66e-6) (6.536,8.55e-6) (6.559,7.86e-6) (6.581,7.63e-6) (6.604,7.26e-6) (6.626,6.95e-6) (6.66,6.90e-6) (6.682,6.95e-6) (6.705,6.90e-6) (6.727,7.11e-6) (6.749,7.32e-6) (6.772,7.16e-6) (6.794,7.26e-6) (6.817,7.05e-6) (6.839,7.00e-6) (6.861,6.72e-6) (6.884,6.45e-6)
(6.895,6.45e-6) (6.929,6.45e-6) (6.951,6.31e-6) (6.973,6.18e-6) (6.996,6.14e-6) (7.018,6.18e-6) (7.041,5.85e-6) (7.063,5.77e-6) (7.085,6.10e-6) (7.108,6.02e-6) (7.13,5.81e-6) (7.153,5.89e-6) (7.175,6.18e-6) (7.197,6.54e-6) (7.231,6.67e-6) (7.253,6.50e-6) (7.287,6.36e-6) (7.309,6.18e-6) (7.332,5.85e-6) (7.354,5.81e-6) (7.377,6.10e-6) (7.399,5.77e-6) (7.422,5.81e-6) (7.444,6.10e-6) (7.466,6.18e-6) (7.489,6.14e-6) (7.511,5.93e-6) (7.534,5.77e-6) (7.545,5.69e-6) (7.567,6.10e-6) (7.59,6.22e-6) (7.612,5.77e-6) (7.634,6.18e-6) (7.657,6.10e-6) (7.679,5.97e-6) (7.702,6.10e-6) (7.735,6.14e-6) (7.769,6.14e-6) (7.791,6.02e-6) (7.814,6.27e-6) (7.836,6.36e-6) (7.859,6.10e-6) (7.881,6.10e-6) (7.903,6.18e-6) (7.926,6.10e-6) (7.948,5.93e-6) (7.971,6.36e-6) (7.993,6.54e-6) (8.016,6.67e-6) (8.038,6.58e-6) (8.06,6.90e-6) (8.078,7.16e-6) (8.105,6.90e-6) (8.128,6.85e-6) (8.15,6.90e-6) (8.172,6.72e-6) (8.195,6.58e-6) (8.217,6.36e-6) (8.24,5.93e-6) (8.273,5.81e-6) (8.307,5.73e-6) (8.329,5.30e-6) (8.352,4.94e-6) (8.374,4.64e-6) (8.396,4.58e-6) (8.419,4.48e-6) (8.43,4.39e-6) (8.452,4.48e-6) (8.475,4.51e-6) (8.497,4.55e-6) (8.52,4.48e-6) (8.542,4.61e-6) (8.565,4.70e-6)
(8.576,4.87e-6) (8.598,4.91e-6) (8.621,4.80e-6) (8.643,4.74e-6) (8.666,4.64e-6) (8.688,4.70e-6) (8.71,4.84e-6) (8.733,4.91e-6) (8.755,4.80e-6) (8.778,4.77e-6) (8.8,4.87e-6) (8.834,4.91e-6) (8.867,4.94e-6) (8.89,5.01e-6) (8.912,5.20e-6) (8.935,5.27e-6) (8.957,5.01e-6) (8.979,4.77e-6) (9.002,4.74e-6) (9.024,4.67e-6) (9.047,4.58e-6) (9.069,4.48e-6) (9.091,4.70e-6) (9.114,4.67e-6) (9.136,4.48e-6) (9.159,4.36e-6) (9.181,4.48e-6) (9.203,4.23e-6) (9.226,4.36e-6) (9.248,4.30e-6) (9.271,4.21e-6) (9.293,4.23e-6) (9.315,4.15e-6) (9.338,4.09e-6) (9.36,3.90e-6) (9.383,3.82e-6) (9.405,3.79e-6) (9.428,3.82e-6) (9.45,3.90e-6) (9.472,3.84e-6) (9.495,3.82e-6) (9.517,3.68e-6) (9.54,3.79e-6) (9.562,3.84e-6) (9.584,3.90e-6) (9.607,4.15e-6) (9.629,4.18e-6) (9.652,4.12e-6) (9.674,4.15e-6) (9.696,4.09e-6) (9.719,4.12e-6) (9.741,4.15e-6) (9.764,4.06e-6) (9.786,4.00e-6) (9.808,3.92e-6) (9.831,3.95e-6) (9.853,3.87e-6) (9.876,3.90e-6) (9.898,3.84e-6) (9.92,3.79e-6) (9.932,3.98e-6) (9.954,3.95e-6) (9.977,4.00e-6) (10,4.00e-6)
};
\addlegendentry{\makebox[92.3pt][l]{G-SHA-1}}
\end{axis}
\node[anchor=base, inner sep=0pt, font=\fontsize{16.5}{16.5}\selectfont] at ([yshift=12.8pt]nmid) {Approximate Entropy Plot};
\node[anchor=base east, inner sep=0pt, font=\fontsize{15}{15}\selectfont] at ([yshift=-46pt]se) {x 10\raisebox{9.5pt}{\fontsize{10.5}{10.5}\selectfont 5}};
\pgfresetboundingbox
\path[use as bounding box] ([xshift=-64pt,yshift=-50pt]sw) rectangle ([xshift=11.5pt,yshift=18.5pt]ne);
\end{tikzpicture}
\end{document}
